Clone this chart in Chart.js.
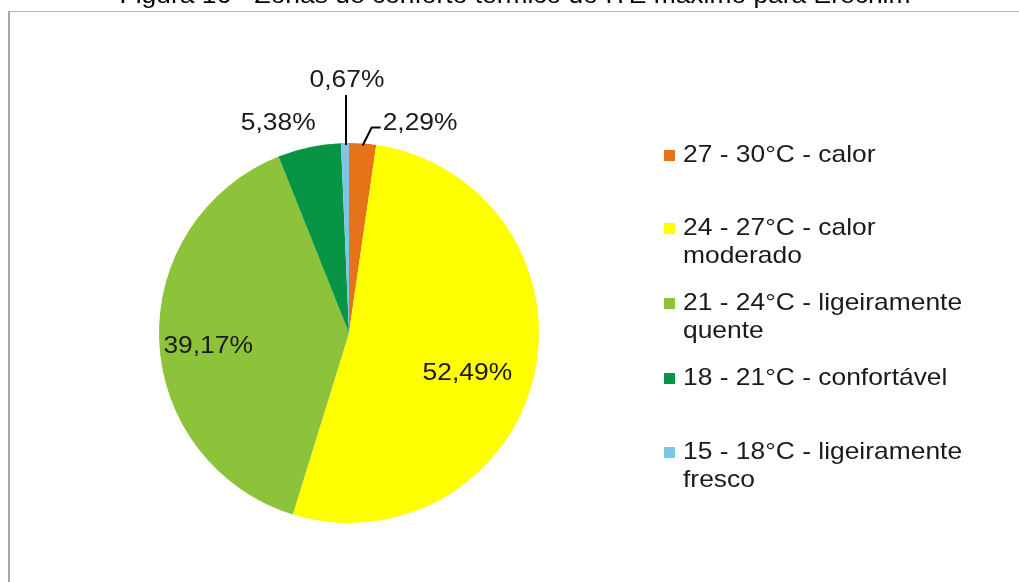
<!DOCTYPE html>
<html>
<head>
<meta charset="utf-8">
<script src="https://cdn.jsdelivr.net/npm/chart.js@4"></script>
<style>
  body { margin: 0; background: #fff; }
  canvas { display: block; }
</style>
</head>
<body>
<canvas id="grafico_ite" width="1019" height="582"></canvas>
<script>
const tituloFigura = 'Figura 16 - Zonas de conforto térmico do ITE máximo para Erechim';
const zonas = [
    ['27 - 30°C - calor'],
    ['24 - 27°C - calor', 'moderado'],
    ['21 - 24°C - ligeiramente', 'quente'],
    ['18 - 21°C - confortável'],
    ['15 - 18°C - ligeiramente', 'fresco'],
];
const percentuais = [2.29, 52.49, 39.17, 5.38, 0.67];
const rotulos = ['2,29%', '52,49%', '39,17%', '5,38%', '0,67%'];
const cores = ['#E5731A', '#FFFF00', '#8CC33A', '#079444', '#7DC6E7'];

// onde cada rótulo fica em relação ao ponto médio da borda da fatia
const posRotulos = [
    { dx: 20, dy: -20, align: 'left', linha: 'cotovelo' },
    { dx: -67, dy: -1, align: 'center' },
    { dx: 49, dy: 6, align: 'center' },
    { dx: -31, dy: -24, align: 'center' },
    { dx: 2, dy: -63, align: 'center', linha: 'reta' },
];
const fonte = '24px "Liberation Sans", Arial, sans-serif';
const escalaX = 1.1;

function texto(ctx, s, x, y, align) {
    ctx.save();
    ctx.translate(x, y);
    ctx.scale(escalaX, 1);
    ctx.textAlign = align;
    ctx.fillText(s, 0, 0);
    ctx.restore();
}

const pluginMoldura = {
    id: 'moldura',
    beforeDraw(chart) {
        const ctx = chart.ctx;
        ctx.save();
        ctx.strokeStyle = '#b4b4b4';
        ctx.lineWidth = 1;
        ctx.beginPath();
        ctx.moveTo(8, 11.5);
        ctx.lineTo(1019, 11.5);
        ctx.stroke();
        ctx.strokeStyle = '#a8a8a8';
        ctx.lineWidth = 2;
        ctx.beginPath();
        ctx.moveTo(9, 11);
        ctx.lineTo(9, 582);
        ctx.stroke();
        ctx.fillStyle = '#000';
        ctx.font = fonte;
        ctx.textBaseline = 'alphabetic';
        texto(ctx, tituloFigura, 515, 3, 'center');
        ctx.restore();
    },
};

const pluginRotulos = {
    id: 'rotulos',
    afterDatasetsDraw(chart) {
        const ctx = chart.ctx;
        const arcos = chart.getDatasetMeta(0).data;
        ctx.save();
        ctx.font = fonte;
        ctx.fillStyle = '#1a1a1a';
        ctx.strokeStyle = '#000';
        ctx.lineWidth = 2;
        ctx.textBaseline = 'middle';
        arcos.forEach((arco, i) => {
            const p = arco.getProps(['x', 'y', 'startAngle', 'endAngle', 'outerRadius']);
            const meio = (p.startAngle + p.endAngle) / 2;
            const bx = p.x + Math.cos(meio) * p.outerRadius;
            const by = p.y + Math.sin(meio) * p.outerRadius;
            const cfg = posRotulos[i];
            const lx = bx + cfg.dx;
            const ly = by + cfg.dy;
            if (cfg.linha === 'reta') {
                ctx.beginPath();
                ctx.moveTo(lx - 1, by + 2);
                ctx.lineTo(lx - 1, ly + 15);
                ctx.stroke();
            } else if (cfg.linha === 'cotovelo') {
                ctx.beginPath();
                ctx.moveTo(bx, by + 2);
                ctx.lineTo(bx + 9, ly + 4);
                ctx.lineTo(lx - 2, ly + 4);
                ctx.stroke();
            }
            texto(ctx, rotulos[i], lx, ly, cfg.align);
        });
        ctx.restore();
    },
};

const pluginLegenda = {
    id: 'legenda',
    afterDraw(chart) {
        const ctx = chart.ctx;
        const topos = [155, 228, 303, 378, 452];
        ctx.save();
        ctx.font = fonte;
        ctx.textBaseline = 'middle';
        zonas.forEach((linhas, i) => {
            ctx.fillStyle = cores[i];
            ctx.fillRect(664, topos[i] - 5, 11, 11);
            ctx.fillStyle = '#1a1a1a';
            linhas.forEach((s, j) => texto(ctx, s, 683, topos[i] + j * 28, 'left'));
        });
        ctx.restore();
    },
};

const canvas_grafico = document.getElementById('grafico_ite');
new Chart(canvas_grafico.getContext('2d'), {
    type: 'pie',
    data: {
        labels: zonas.map(z => z.join(' ')),
        datasets: [{
            data: percentuais,
            backgroundColor: cores,
            borderWidth: 0,
        }],
    },
    options: {
        responsive: false,
        animation: false,
        layout: { padding: { left: 159, right: 480, top: 143, bottom: 59 } },
        plugins: {
            legend: { display: false },
            tooltip: { enabled: false },
            title: { display: false },
        },
    },
    plugins: [pluginMoldura, pluginRotulos, pluginLegenda],
});
</script>
</body>
</html>
